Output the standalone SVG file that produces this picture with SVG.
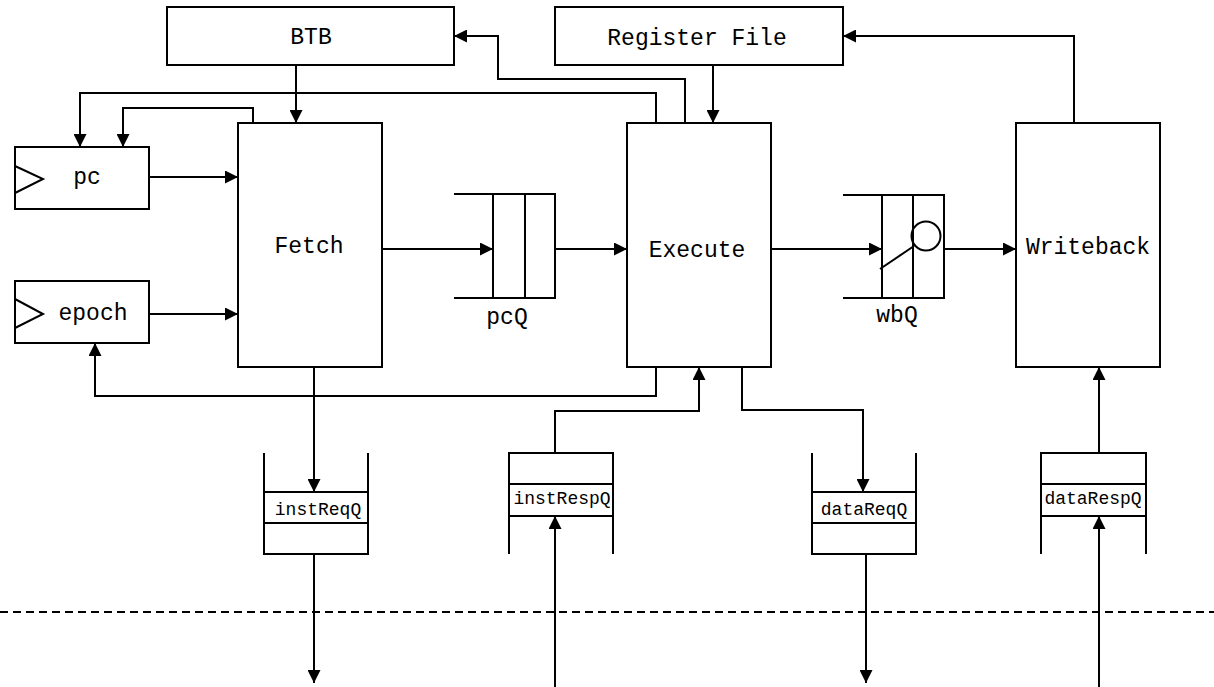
<svg xmlns="http://www.w3.org/2000/svg" width="1214" height="687" viewBox="0 0 1214 687">
<style>
.b{fill:#fff;stroke:#000;stroke-width:2}
.l{fill:none;stroke:#000;stroke-width:2}
.c{fill:none;stroke:#000;stroke-width:2;marker-end:url(#a)}
.t{font-family:"Liberation Mono","Courier New",monospace;font-size:23px;fill:#000;text-anchor:middle}
.s{font-family:"Liberation Mono","Courier New",monospace;font-size:18px;fill:#000;text-anchor:middle}
</style>
<defs>
<marker id="a" markerUnits="userSpaceOnUse" markerWidth="13" markerHeight="13" refX="13" refY="6.5" orient="auto">
<path d="M0,0 L13,6.5 L0,13 z" fill="#000"/>
</marker>
</defs>
<rect width="1214" height="687" fill="#fff"/>
<g id="btb"><rect class="b" x="167" y="7" width="287" height="58"/><text class="t" x="311" y="44">BTB</text></g>
<g id="regfile"><rect class="b" x="555" y="7" width="288" height="58"/><text class="t" x="697" y="45">Register File</text></g>
<g id="pc"><rect class="b" x="15" y="147" width="134" height="62"/><path class="l" d="M15,166 L43,179 L15,193"/><text class="t" x="87" y="184">pc</text></g>
<g id="epoch"><rect class="b" x="15" y="281" width="134" height="62"/><path class="l" d="M15,299 L43,314 L15,328"/><text class="t" x="93" y="320">epoch</text></g>
<g id="fetch"><rect class="b" x="238" y="123" width="144" height="244"/><text class="t" x="309" y="253">Fetch</text></g>
<g id="execute"><rect class="b" x="627" y="123" width="144" height="244"/><text class="t" x="697" y="257">Execute</text></g>
<g id="writeback"><rect class="b" x="1016" y="123" width="144" height="244"/><text class="t" x="1088" y="254">Writeback</text></g>
<g id="pcQ"><path class="l" d="M454,194 H555 V298 H454 M493,194 V298 M525,194 V298"/><text class="t" x="507" y="324">pcQ</text></g>
<g id="wbQ"><path class="l" d="M843,195 H944 V298 H843 M882,195 V298 M913,195 V298"/><circle class="l" cx="926" cy="236" r="14.5"/><path class="l" d="M880,269 L914,246"/><text class="t" x="897" y="322">wbQ</text></g>
<g id="instReqQ"><path class="l" d="M264,453 V554 H368 V453 M264,492 H368 M264,523 H368"/><text class="s" x="318" y="515">instReqQ</text></g>
<g id="instRespQ"><path class="l" d="M509,554 V453 H613 V554 M509,484 H613 M509,516 H613"/><text class="s" x="562" y="504">instRespQ</text></g>
<g id="dataReqQ"><path class="l" d="M812,453 V554 H916 V453 M812,492 H916 M812,523 H916"/><text class="s" x="864" y="515">dataReqQ</text></g>
<g id="dataRespQ"><path class="l" d="M1041,554 V453 H1146 V554 M1041,484 H1146 M1041,516 H1146"/><text class="s" x="1093" y="504">dataRespQ</text></g>
<g id="connectors">
<path class="c" d="M296,65 V123"/>
<path class="c" d="M713,65 V123"/>
<path class="c" d="M656,123 V93 H80 V147"/>
<path class="c" d="M253,123 V108 H123 V147"/>
<path class="c" d="M149,177 H238"/>
<path class="c" d="M149,314 H238"/>
<path class="c" d="M656,367 V396 H95 V343"/>
<path class="c" d="M685,123 V79 H498 V36 H454"/>
<path class="c" d="M1074,123 V36 H843"/>
<path class="c" d="M382,249 H493"/>
<path class="c" d="M555,249 H627"/>
<path class="c" d="M771,249 H882"/>
<path class="c" d="M944,249 H1016"/>
<path class="c" d="M314,367 V492"/>
<path class="c" d="M314,554 V683"/>
<path class="c" d="M555,453 V411 H699 V367"/>
<path class="c" d="M555,687 V516"/>
<path class="c" d="M742,367 V410 H863 V492"/>
<path class="c" d="M866,554 V683"/>
<path class="c" d="M1099,453 V367"/>
<path class="c" d="M1099,687 V516"/>
<path class="l" d="M0,612 H1214" stroke-dasharray="8 5"/>
</g>
</svg>
